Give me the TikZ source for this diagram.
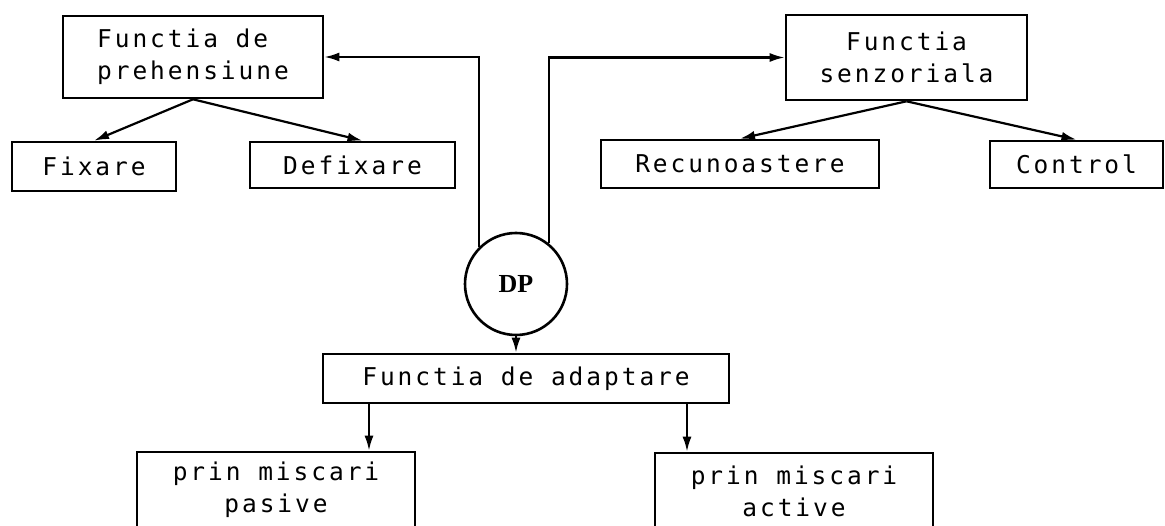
\documentclass[tikz,border=0pt]{standalone}
\usepackage{fontspec}
\setmonofont{DejaVu Sans Mono}[LetterSpace=12]
\newfontfamily\dpfont{Liberation Serif}
\usetikzlibrary{arrows.meta}

\tikzset{
  box/.style={draw, line width=2.6pt, inner sep=0pt,
    font=\ttfamily\fontsize{24.5}{32}\selectfont},
  arr/.style={-{Latex[length=15pt,width=9pt]}, line width=2.2pt},
}

\begin{document}
\begin{tikzpicture}[x=1pt, y=-1pt]
  \useasboundingbox (0,0) rectangle (1165,526);
  \clip (0,0) rectangle (1165,526);

  % upper left branch
  \node[box, minimum width=260pt, minimum height=82pt, align=left] (preh) at (193,57) {Functia de\\prehensiune};
  \node[box, minimum width=164pt, minimum height=49pt] (fix) at (94,166.5) {Fixare};
  \node[box, minimum width=205pt, minimum height=46pt] (defix) at (352.5,165) {Defixare};

  % upper right branch
  \node[box, minimum width=241pt, minimum height=85pt, align=center] (senz) at (906.5,57.5) {Functia\\senzoriala};
  \node[box, minimum width=278pt, minimum height=48pt] (rec) at (740,164) {Recunoastere};
  \node[box, minimum width=173pt, minimum height=47pt] (ctrl) at (1076.5,164.5) {Control};

  % central device
  \node[draw, circle, line width=2.6pt, minimum size=102pt, inner sep=0pt,
        font=\dpfont\bfseries\fontsize{26}{26}\selectfont] (dp) at (516,284) {DP};

  % lower branch
  \node[box, minimum width=406pt, minimum height=49pt] (adapt) at (526,378.5) {Functia de adaptare};
  \node[box, minimum width=278pt, minimum height=76pt, align=center] (pas) at (276,490) {prin miscari\\pasive};
  \node[box, minimum width=278pt, minimum height=76pt, align=center] (act) at (794,491) {prin miscari\\active};

  % connectors
  \draw[arr] (preh.south) -- (fix.north);
  \draw[arr] (preh.south) -- ([xshift=10pt]defix.north);
  \draw[arr] (senz.south) -- (rec.north);
  \draw[arr] (senz.south) -- (ctrl.north);

  \draw[arr] (dp.135) |- (preh.east);
  \draw[arr] (dp.51) |- (senz.west);
  \draw[arr] (dp.south) -- (dp.south |- adapt.north);

  \coordinate (pa) at ([xshift=-157pt]adapt.south);
  \coordinate (ac) at ([xshift=161pt]adapt.south);
  \draw[arr] (pa) -- (pa |- pas.north);
  \draw[arr] (ac) -- (ac |- act.north);
\end{tikzpicture}
\end{document}
